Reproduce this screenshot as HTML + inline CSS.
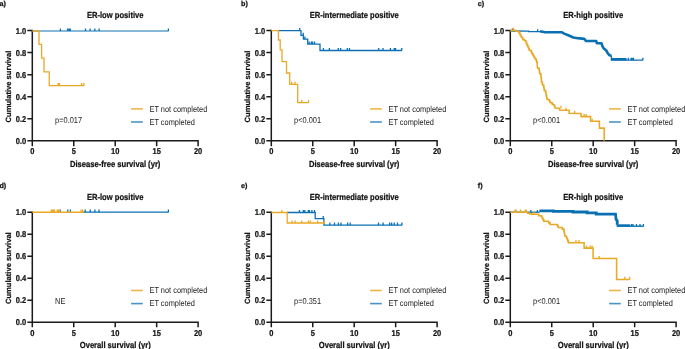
<!DOCTYPE html>
<html><head><meta charset="utf-8"><style>
html,body{margin:0;padding:0;background:#fff;}
svg{display:block;will-change:transform;}
text{font-family:"Liberation Sans",sans-serif;fill:#111;text-rendering:geometricPrecision;}
.tt{font-weight:bold;font-size:7.60px;stroke:#111;stroke-width:0.2px;}
.yl{font-weight:bold;font-size:7.60px;stroke:#111;stroke-width:0.2px;}
.tk{font-weight:bold;font-size:7.50px;stroke:#111;stroke-width:0.2px;}
.lg{font-size:7.40px;fill:#222;}
.pl{font-size:7.2px;font-weight:bold;stroke:#111;stroke-width:0.25px;}
</style></head><body>
<svg width="685" height="349" viewBox="0 0 685 349">
<rect width="685" height="349" fill="#fff"/>
<text transform="translate(-0.60 5.70) scale(1 1.000)" class="pl">a)</text>
<text transform="translate(115.20 18.20) scale(1 1.160)" class="tt" text-anchor="middle">ER-low positive</text>
<text transform="translate(10.70 86.55) rotate(-90) scale(1 1.000)" class="yl" text-anchor="middle">Cumulative survival</text>
<path d="M32.30 30.60 V145.60 M28.10 140.70 H198.10 M28.10 140.70 H32.30 M28.10 118.68 H32.30 M28.10 96.66 H32.30 M28.10 74.64 H32.30 M28.10 52.62 H32.30 M28.10 30.60 H32.30 M32.30 140.70 V145.60 M73.75 140.70 V145.60 M115.20 140.70 V145.60 M156.65 140.70 V145.60 M198.10 140.70 V145.60 " stroke="#1a1a1a" stroke-width="1.50" fill="none" stroke-linecap="square"/>
<text transform="translate(26.30 144.20) scale(1 1.140)" class="tk" text-anchor="end">0.0</text>
<text transform="translate(26.30 122.18) scale(1 1.140)" class="tk" text-anchor="end">0.2</text>
<text transform="translate(26.30 100.16) scale(1 1.140)" class="tk" text-anchor="end">0.4</text>
<text transform="translate(26.30 78.14) scale(1 1.140)" class="tk" text-anchor="end">0.6</text>
<text transform="translate(26.30 56.12) scale(1 1.140)" class="tk" text-anchor="end">0.8</text>
<text transform="translate(26.30 34.10) scale(1 1.140)" class="tk" text-anchor="end">1.0</text>
<text transform="translate(32.30 154.20) scale(1 1.140)" class="tk" text-anchor="middle">0</text>
<text transform="translate(73.75 154.20) scale(1 1.140)" class="tk" text-anchor="middle">5</text>
<text transform="translate(115.20 154.20) scale(1 1.140)" class="tk" text-anchor="middle">10</text>
<text transform="translate(156.65 154.20) scale(1 1.140)" class="tk" text-anchor="middle">15</text>
<text transform="translate(198.10 154.20) scale(1 1.140)" class="tk" text-anchor="middle">20</text>
<text transform="translate(115.20 166.50) scale(1 1.160)" class="tt" text-anchor="middle">Disease-free survival (yr)</text>
<path d="M131.10 108.90 H142.80" stroke="#E9A926" stroke-width="1.6" stroke-opacity="0.85"/>
<path d="M131.10 122.00 H142.80" stroke="#0B70B2" stroke-width="1.6" stroke-opacity="0.75"/>
<text transform="translate(149.50 111.60) scale(1 1.160)" class="lg">ET not completed</text>
<text transform="translate(149.50 124.70) scale(1 1.160)" class="lg">ET completed</text>
<text transform="translate(55.10 122.70) scale(1 1.160)" class="lg">p=0.017</text>
<text transform="translate(241.00 5.70) scale(1 1.000)" class="pl">b)</text>
<text transform="translate(354.20 18.20) scale(1 1.160)" class="tt" text-anchor="middle">ER-intermediate positive</text>
<text transform="translate(249.70 86.55) rotate(-90) scale(1 1.000)" class="yl" text-anchor="middle">Cumulative survival</text>
<path d="M271.30 30.60 V145.60 M267.10 140.70 H437.10 M267.10 140.70 H271.30 M267.10 118.68 H271.30 M267.10 96.66 H271.30 M267.10 74.64 H271.30 M267.10 52.62 H271.30 M267.10 30.60 H271.30 M271.30 140.70 V145.60 M312.75 140.70 V145.60 M354.20 140.70 V145.60 M395.65 140.70 V145.60 M437.10 140.70 V145.60 " stroke="#1a1a1a" stroke-width="1.50" fill="none" stroke-linecap="square"/>
<text transform="translate(265.30 144.20) scale(1 1.140)" class="tk" text-anchor="end">0.0</text>
<text transform="translate(265.30 122.18) scale(1 1.140)" class="tk" text-anchor="end">0.2</text>
<text transform="translate(265.30 100.16) scale(1 1.140)" class="tk" text-anchor="end">0.4</text>
<text transform="translate(265.30 78.14) scale(1 1.140)" class="tk" text-anchor="end">0.6</text>
<text transform="translate(265.30 56.12) scale(1 1.140)" class="tk" text-anchor="end">0.8</text>
<text transform="translate(265.30 34.10) scale(1 1.140)" class="tk" text-anchor="end">1.0</text>
<text transform="translate(271.30 154.20) scale(1 1.140)" class="tk" text-anchor="middle">0</text>
<text transform="translate(312.75 154.20) scale(1 1.140)" class="tk" text-anchor="middle">5</text>
<text transform="translate(354.20 154.20) scale(1 1.140)" class="tk" text-anchor="middle">10</text>
<text transform="translate(395.65 154.20) scale(1 1.140)" class="tk" text-anchor="middle">15</text>
<text transform="translate(437.10 154.20) scale(1 1.140)" class="tk" text-anchor="middle">20</text>
<text transform="translate(354.20 166.50) scale(1 1.160)" class="tt" text-anchor="middle">Disease-free survival (yr)</text>
<path d="M370.10 108.90 H381.80" stroke="#E9A926" stroke-width="1.6" stroke-opacity="0.85"/>
<path d="M370.10 122.00 H381.80" stroke="#0B70B2" stroke-width="1.6" stroke-opacity="0.75"/>
<text transform="translate(388.50 111.60) scale(1 1.160)" class="lg">ET not completed</text>
<text transform="translate(388.50 124.70) scale(1 1.160)" class="lg">ET completed</text>
<text transform="translate(294.10 122.70) scale(1 1.160)" class="lg">p&lt;0.001</text>
<text transform="translate(477.80 5.70) scale(1 1.000)" class="pl">c)</text>
<text transform="translate(593.20 18.20) scale(1 1.160)" class="tt" text-anchor="middle">ER-high positive</text>
<text transform="translate(488.70 86.55) rotate(-90) scale(1 1.000)" class="yl" text-anchor="middle">Cumulative survival</text>
<path d="M510.30 30.60 V145.60 M506.10 140.70 H676.10 M506.10 140.70 H510.30 M506.10 118.68 H510.30 M506.10 96.66 H510.30 M506.10 74.64 H510.30 M506.10 52.62 H510.30 M506.10 30.60 H510.30 M510.30 140.70 V145.60 M551.75 140.70 V145.60 M593.20 140.70 V145.60 M634.65 140.70 V145.60 M676.10 140.70 V145.60 " stroke="#1a1a1a" stroke-width="1.50" fill="none" stroke-linecap="square"/>
<text transform="translate(504.30 144.20) scale(1 1.140)" class="tk" text-anchor="end">0.0</text>
<text transform="translate(504.30 122.18) scale(1 1.140)" class="tk" text-anchor="end">0.2</text>
<text transform="translate(504.30 100.16) scale(1 1.140)" class="tk" text-anchor="end">0.4</text>
<text transform="translate(504.30 78.14) scale(1 1.140)" class="tk" text-anchor="end">0.6</text>
<text transform="translate(504.30 56.12) scale(1 1.140)" class="tk" text-anchor="end">0.8</text>
<text transform="translate(504.30 34.10) scale(1 1.140)" class="tk" text-anchor="end">1.0</text>
<text transform="translate(510.30 154.20) scale(1 1.140)" class="tk" text-anchor="middle">0</text>
<text transform="translate(551.75 154.20) scale(1 1.140)" class="tk" text-anchor="middle">5</text>
<text transform="translate(593.20 154.20) scale(1 1.140)" class="tk" text-anchor="middle">10</text>
<text transform="translate(634.65 154.20) scale(1 1.140)" class="tk" text-anchor="middle">15</text>
<text transform="translate(676.10 154.20) scale(1 1.140)" class="tk" text-anchor="middle">20</text>
<text transform="translate(593.20 166.50) scale(1 1.160)" class="tt" text-anchor="middle">Disease-free survival (yr)</text>
<path d="M609.10 108.90 H620.80" stroke="#E9A926" stroke-width="1.6" stroke-opacity="0.85"/>
<path d="M609.10 122.00 H620.80" stroke="#0B70B2" stroke-width="1.6" stroke-opacity="0.75"/>
<text transform="translate(627.50 111.60) scale(1 1.160)" class="lg">ET not completed</text>
<text transform="translate(627.50 124.70) scale(1 1.160)" class="lg">ET completed</text>
<text transform="translate(533.10 122.70) scale(1 1.160)" class="lg">p&lt;0.001</text>
<text transform="translate(-0.60 187.70) scale(1 1.000)" class="pl">d)</text>
<text transform="translate(115.20 199.80) scale(1 1.160)" class="tt" text-anchor="middle">ER-low positive</text>
<text transform="translate(10.70 268.15) rotate(-90) scale(1 1.000)" class="yl" text-anchor="middle">Cumulative survival</text>
<path d="M32.30 212.20 V326.40 M28.10 322.30 H198.10 M28.10 322.30 H32.30 M28.10 300.28 H32.30 M28.10 278.26 H32.30 M28.10 256.24 H32.30 M28.10 234.22 H32.30 M28.10 212.20 H32.30 M32.30 322.30 V326.40 M73.75 322.30 V326.40 M115.20 322.30 V326.40 M156.65 322.30 V326.40 M198.10 322.30 V326.40 " stroke="#1a1a1a" stroke-width="1.50" fill="none" stroke-linecap="square"/>
<text transform="translate(26.30 325.30) scale(1 1.140)" class="tk" text-anchor="end">0.0</text>
<text transform="translate(26.30 303.28) scale(1 1.140)" class="tk" text-anchor="end">0.2</text>
<text transform="translate(26.30 281.26) scale(1 1.140)" class="tk" text-anchor="end">0.4</text>
<text transform="translate(26.30 259.24) scale(1 1.140)" class="tk" text-anchor="end">0.6</text>
<text transform="translate(26.30 237.22) scale(1 1.140)" class="tk" text-anchor="end">0.8</text>
<text transform="translate(26.30 215.20) scale(1 1.140)" class="tk" text-anchor="end">1.0</text>
<text transform="translate(32.30 335.80) scale(1 1.140)" class="tk" text-anchor="middle">0</text>
<text transform="translate(73.75 335.80) scale(1 1.140)" class="tk" text-anchor="middle">5</text>
<text transform="translate(115.20 335.80) scale(1 1.140)" class="tk" text-anchor="middle">10</text>
<text transform="translate(156.65 335.80) scale(1 1.140)" class="tk" text-anchor="middle">15</text>
<text transform="translate(198.10 335.80) scale(1 1.140)" class="tk" text-anchor="middle">20</text>
<text transform="translate(115.20 348.10) scale(1 1.160)" class="tt" text-anchor="middle">Overall survival (yr)</text>
<path d="M131.10 290.50 H142.80" stroke="#E9A926" stroke-width="1.6" stroke-opacity="0.85"/>
<path d="M131.10 303.60 H142.80" stroke="#0B70B2" stroke-width="1.6" stroke-opacity="0.75"/>
<text transform="translate(149.50 293.20) scale(1 1.160)" class="lg">ET not completed</text>
<text transform="translate(149.50 306.30) scale(1 1.160)" class="lg">ET completed</text>
<text transform="translate(55.10 304.30) scale(1 1.160)" class="lg">NE</text>
<text transform="translate(241.00 187.70) scale(1 1.000)" class="pl">e)</text>
<text transform="translate(354.20 199.80) scale(1 1.160)" class="tt" text-anchor="middle">ER-intermediate positive</text>
<text transform="translate(249.70 268.15) rotate(-90) scale(1 1.000)" class="yl" text-anchor="middle">Cumulative survival</text>
<path d="M271.30 212.20 V326.40 M267.10 322.30 H437.10 M267.10 322.30 H271.30 M267.10 300.28 H271.30 M267.10 278.26 H271.30 M267.10 256.24 H271.30 M267.10 234.22 H271.30 M267.10 212.20 H271.30 M271.30 322.30 V326.40 M312.75 322.30 V326.40 M354.20 322.30 V326.40 M395.65 322.30 V326.40 M437.10 322.30 V326.40 " stroke="#1a1a1a" stroke-width="1.50" fill="none" stroke-linecap="square"/>
<text transform="translate(265.30 325.30) scale(1 1.140)" class="tk" text-anchor="end">0.0</text>
<text transform="translate(265.30 303.28) scale(1 1.140)" class="tk" text-anchor="end">0.2</text>
<text transform="translate(265.30 281.26) scale(1 1.140)" class="tk" text-anchor="end">0.4</text>
<text transform="translate(265.30 259.24) scale(1 1.140)" class="tk" text-anchor="end">0.6</text>
<text transform="translate(265.30 237.22) scale(1 1.140)" class="tk" text-anchor="end">0.8</text>
<text transform="translate(265.30 215.20) scale(1 1.140)" class="tk" text-anchor="end">1.0</text>
<text transform="translate(271.30 335.80) scale(1 1.140)" class="tk" text-anchor="middle">0</text>
<text transform="translate(312.75 335.80) scale(1 1.140)" class="tk" text-anchor="middle">5</text>
<text transform="translate(354.20 335.80) scale(1 1.140)" class="tk" text-anchor="middle">10</text>
<text transform="translate(395.65 335.80) scale(1 1.140)" class="tk" text-anchor="middle">15</text>
<text transform="translate(437.10 335.80) scale(1 1.140)" class="tk" text-anchor="middle">20</text>
<text transform="translate(354.20 348.10) scale(1 1.160)" class="tt" text-anchor="middle">Overall survival (yr)</text>
<path d="M370.10 290.50 H381.80" stroke="#E9A926" stroke-width="1.6" stroke-opacity="0.85"/>
<path d="M370.10 303.60 H381.80" stroke="#0B70B2" stroke-width="1.6" stroke-opacity="0.75"/>
<text transform="translate(388.50 293.20) scale(1 1.160)" class="lg">ET not completed</text>
<text transform="translate(388.50 306.30) scale(1 1.160)" class="lg">ET completed</text>
<text transform="translate(294.10 304.30) scale(1 1.160)" class="lg">p=0.351</text>
<text transform="translate(477.80 187.70) scale(1 1.000)" class="pl">f)</text>
<text transform="translate(593.20 199.80) scale(1 1.160)" class="tt" text-anchor="middle">ER-high positive</text>
<text transform="translate(488.70 268.15) rotate(-90) scale(1 1.000)" class="yl" text-anchor="middle">Cumulative survival</text>
<path d="M510.30 212.20 V326.40 M506.10 322.30 H676.10 M506.10 322.30 H510.30 M506.10 300.28 H510.30 M506.10 278.26 H510.30 M506.10 256.24 H510.30 M506.10 234.22 H510.30 M506.10 212.20 H510.30 M510.30 322.30 V326.40 M551.75 322.30 V326.40 M593.20 322.30 V326.40 M634.65 322.30 V326.40 M676.10 322.30 V326.40 " stroke="#1a1a1a" stroke-width="1.50" fill="none" stroke-linecap="square"/>
<text transform="translate(504.30 325.30) scale(1 1.140)" class="tk" text-anchor="end">0.0</text>
<text transform="translate(504.30 303.28) scale(1 1.140)" class="tk" text-anchor="end">0.2</text>
<text transform="translate(504.30 281.26) scale(1 1.140)" class="tk" text-anchor="end">0.4</text>
<text transform="translate(504.30 259.24) scale(1 1.140)" class="tk" text-anchor="end">0.6</text>
<text transform="translate(504.30 237.22) scale(1 1.140)" class="tk" text-anchor="end">0.8</text>
<text transform="translate(504.30 215.20) scale(1 1.140)" class="tk" text-anchor="end">1.0</text>
<text transform="translate(510.30 335.80) scale(1 1.140)" class="tk" text-anchor="middle">0</text>
<text transform="translate(551.75 335.80) scale(1 1.140)" class="tk" text-anchor="middle">5</text>
<text transform="translate(593.20 335.80) scale(1 1.140)" class="tk" text-anchor="middle">10</text>
<text transform="translate(634.65 335.80) scale(1 1.140)" class="tk" text-anchor="middle">15</text>
<text transform="translate(676.10 335.80) scale(1 1.140)" class="tk" text-anchor="middle">20</text>
<text transform="translate(593.20 348.10) scale(1 1.160)" class="tt" text-anchor="middle">Overall survival (yr)</text>
<path d="M609.10 290.50 H620.80" stroke="#E9A926" stroke-width="1.6" stroke-opacity="0.85"/>
<path d="M609.10 303.60 H620.80" stroke="#0B70B2" stroke-width="1.6" stroke-opacity="0.75"/>
<text transform="translate(627.50 293.20) scale(1 1.160)" class="lg">ET not completed</text>
<text transform="translate(627.50 306.30) scale(1 1.160)" class="lg">ET completed</text>
<text transform="translate(533.10 304.30) scale(1 1.160)" class="lg">p&lt;0.001</text>
<path d="M32.30 31.00 H168.60" stroke="#0B70B2" stroke-width="1.00" fill="none" />
<path d="M60.40 31.00 V28.40 M67.60 31.00 V28.40 M69.10 31.00 V28.40 M70.30 31.00 V28.40 M85.50 31.00 V28.40 M90.10 31.00 V28.40 M94.80 31.00 V28.40 M99.10 31.00 V28.40 M168.40 31.00 V28.40 " stroke="#0B70B2" stroke-width="1.30" fill="none" />
<path d="M32.30 31.00 H39.00 V44.40 H41.60 V58.10 H44.00 V71.90 H49.25 V85.60 H84.20" stroke="#E9A926" stroke-width="1.30" fill="none" />
<path d="M58.10 85.60 V83.00 M59.30 85.60 V83.00 M81.70 85.60 V83.00 M83.90 85.60 V83.00 " stroke="#E9A926" stroke-width="1.30" fill="none" />
<path d="M278.00 30.60 H301.00 V35.30 H303.40 V39.20 H307.70 V44.10 H320.00 V50.50 H402.00" stroke="#0B70B2" stroke-width="1.30" fill="none" />
<path d="M299.70 30.60 V28.00 M303.20 35.30 V32.70 M304.90 39.20 V36.60 M309.20 44.10 V41.50 M311.30 44.10 V41.50 M312.60 44.10 V41.50 M314.60 44.10 V41.50 M323.40 50.50 V47.90 M329.40 50.50 V47.90 M338.30 50.50 V47.90 M340.70 50.50 V47.90 M347.30 50.50 V47.90 M349.50 50.50 V47.90 M378.70 50.50 V47.90 M383.00 50.50 V47.90 M390.40 50.50 V47.90 M394.30 50.50 V47.90 M395.50 50.50 V47.90 M401.80 50.50 V47.90 " stroke="#0B70B2" stroke-width="1.30" fill="none" />
<path d="M271.30 30.60 H278.40 V40.00 H280.20 V49.80 H282.00 V61.70 H286.50 V73.00 H289.70 V84.30 H297.70 V102.70 H308.70" stroke="#E9A926" stroke-width="1.30" fill="none" />
<path d="M291.70 84.30 V81.70 M295.10 84.30 V81.70 M301.70 102.70 V100.10 M308.50 102.70 V100.10 " stroke="#E9A926" stroke-width="1.30" fill="none" />
<path d="M510.30 31.00 L528.60 31.20 L528.60 31.60 L540.30 31.60" stroke="#0B70B2" stroke-width="1.30" fill="none" />
<path d="M540.00 31.30 L545.00 32.30 L562.00 32.30 L564.20 33.60 L568.80 35.50 L573.30 37.50 L577.90 38.30 L580.00 38.40 L584.30 38.90 L586.00 41.00 L596.30 41.00 L596.80 43.20 L601.50 43.20 L602.40 46.20 L603.60 48.30 L605.40 49.80 L606.50 50.80 L607.80 53.30 L609.60 55.30 L611.40 55.60" stroke="#0B70B2" stroke-width="2.60" fill="none" stroke-linejoin="round"/>
<path d="M611.40 55.60 L611.40 60.20 L643.00 60.20" stroke="#0B70B2" stroke-width="1.30" fill="none" />
<rect x="611.4" y="58.0" width="15.1" height="2.4" fill="#0B70B2"/>
<path d="M512.40 31.00 V28.60 M537.60 31.60 V29.20 M628.30 60.20 V57.80 M631.10 60.20 V57.80 M632.10 60.20 V57.80 M633.50 60.20 V57.80 M642.90 60.20 V57.80 " stroke="#0B70B2" stroke-width="1.30" fill="none" />
<path d="M510.30 30.60 L512.00 30.60 L512.00 30.30 L514.90 30.30 L515.60 30.30 L515.60 31.30 L518.30 31.30 L518.30 31.80 L519.00 31.80 L519.00 32.90 L520.00 32.90 L520.00 34.90 L521.10 34.90 L521.10 37.00 L522.10 37.00 L522.10 38.00 L522.80 38.00 L522.80 39.40 L524.20 39.40 L524.20 40.40 L525.20 40.40 L525.90 40.40 L525.90 42.50 L526.60 42.50 L526.60 44.60 L527.60 44.60 L527.60 46.60 L528.60 46.60 L528.60 48.70 L529.30 48.70 L529.30 50.30 L530.30 50.30 L530.30 50.60 L531.50 50.60 L531.50 52.90 L532.35 52.90 L532.35 54.35 L533.20 54.35 L533.20 55.80 L534.05 55.80 L534.05 57.25 L534.90 57.25 L534.90 58.70 L536.10 58.70 L536.10 60.40 L536.65 60.40 L536.65 62.10 L537.20 62.10 L537.20 63.80 L537.40 68.00 L538.90 68.00 L538.90 68.60 L539.17 68.60 L539.17 70.33 L539.43 70.33 L539.43 72.07 L539.70 72.07 L539.70 73.80 L540.90 73.80 L540.90 76.00 L541.05 76.00 L541.05 77.45 L541.20 77.45 L541.20 78.90 L541.35 78.90 L541.35 80.35 L541.50 80.35 L541.50 81.80 L542.05 81.80 L542.05 83.50 L542.60 83.50 L542.60 85.20 L543.80 85.20 L543.80 87.50 L544.05 87.50 L544.05 88.95 L544.30 88.95 L544.30 90.40 L545.50 90.40 L545.50 92.10 L546.00 92.10 L546.00 94.40 L546.33 94.40 L546.33 96.10 L546.67 96.10 L546.67 97.80 L547.00 97.80 L547.00 99.50 L549.00 99.50 L549.00 100.00 L549.50 100.00 L549.50 101.25 L550.00 101.25 L550.00 102.50 L551.50 102.50 L551.50 103.00 L552.50 103.00 L552.50 104.50 L553.50 104.50 L553.50 105.00 L554.50 105.00 L554.50 106.50 L555.00 106.50 L555.00 108.00 L559.00 108.30 L559.60 108.30 L559.60 110.00 L564.00 110.30 L569.10 110.30 L569.10 113.30 L581.10 113.60 L581.10 116.60 L590.60 116.60 L590.60 121.30 L599.40 121.30 L599.40 128.10 L604.20 128.10 L604.20 140.70" stroke="#E9A926" stroke-width="1.55" fill="none" stroke-linejoin="miter"/>
<path d="M513.50 30.30 V27.70 M552.00 104.50 V101.90 M561.00 108.30 V105.70 M566.00 110.30 V107.70 M574.60 113.40 V110.80 M584.10 116.60 V114.00 M586.10 116.60 V114.00 M592.20 121.30 V118.70 " stroke="#E9A926" stroke-width="1.30" fill="none" />
<path d="M83.00 212.20 H168.60" stroke="#0B70B2" stroke-width="1.30" fill="none" />
<path d="M60.10 212.20 V209.60 M67.80 212.20 V209.60 M70.40 212.20 V209.60 M85.20 212.20 V209.60 M90.30 212.20 V209.60 M94.90 212.20 V209.60 M99.00 212.20 V209.60 M168.40 212.20 V209.60 " stroke="#0B70B2" stroke-width="1.30" fill="none" />
<path d="M32.30 212.20 H83.60" stroke="#E9A926" stroke-width="1.40" fill="none" />
<path d="M51.30 212.20 V209.60 M52.30 212.20 V209.60 M53.60 212.20 V209.60 M54.40 212.20 V209.60 M57.30 212.20 V209.60 M58.20 212.20 V209.60 M59.10 212.20 V209.60 M81.10 212.20 V209.60 M82.60 212.20 V209.60 " stroke="#E9A926" stroke-width="1.30" fill="none" />
<path d="M286.80 212.50 H315.20 V218.60 H323.90 V225.20 H402.10" stroke="#0B70B2" stroke-width="1.30" fill="none" />
<path d="M299.50 212.50 V209.90 M303.30 212.50 V209.90 M304.80 212.50 V209.90 M308.40 212.50 V209.90 M309.40 212.50 V209.90 M311.90 212.50 V209.90 M314.50 212.50 V209.90 M323.20 218.60 V216.00 M329.90 225.20 V222.60 M334.50 225.20 V222.60 M338.40 225.20 V222.60 M341.00 225.20 V222.60 M347.60 225.20 V222.60 M350.20 225.20 V222.60 M378.50 225.20 V222.60 M383.10 225.20 V222.60 M389.60 225.20 V222.60 M391.60 225.20 V222.60 M394.20 225.20 V222.60 M397.50 225.20 V222.60 M401.90 225.20 V222.60 " stroke="#0B70B2" stroke-width="1.30" fill="none" />
<path d="M271.30 212.50 H287.20 V223.00 H324.60" stroke="#E9A926" stroke-width="1.30" fill="none" />
<path d="M281.80 212.50 V209.90 M292.00 223.00 V220.40 M295.10 223.00 V220.40 M301.70 223.00 V220.40 M308.40 223.00 V220.40 M310.40 223.00 V220.40 M317.60 223.00 V220.40 M324.20 223.00 V220.40 " stroke="#E9A926" stroke-width="1.30" fill="none" />
<path d="M510.30 212.20 L529.50 212.20 L539.70 212.20" stroke="#0B70B2" stroke-width="1.30" fill="none" />
<path d="M539.40 210.90 L553.40 210.90 L553.40 211.40 L573.00 211.40 L573.00 212.00 L587.20 212.00 L587.20 212.80 L596.20 212.80 L596.20 214.10 L615.50 214.20 L616.10 219.50 L617.20 220.60 L617.20 224.80" stroke="#0B70B2" stroke-width="2.80" fill="none" stroke-linejoin="miter"/>
<path d="M616.90 226.20 L643.70 226.20" stroke="#0B70B2" stroke-width="1.40" fill="none" />
<rect x="616.6" y="224.3" width="13.5" height="2.2" fill="#0B70B2"/>
<path d="M530.80 212.20 V210.00 M537.40 212.20 V210.00 M631.50 226.20 V224.00 M633.00 226.20 V224.00 M636.50 226.20 V224.00 M640.00 226.20 V224.00 M643.40 226.20 V224.00 " stroke="#0B70B2" stroke-width="1.30" fill="none" />
<path d="M510.30 212.20 L526.00 212.20 L527.50 212.20 L527.50 213.20 L529.50 213.20 L529.50 213.70 L531.60 213.70 L531.60 214.20 L537.60 214.20 L538.60 214.20 L538.60 215.70 L541.20 215.70 L541.20 216.20 L542.07 216.20 L542.07 217.90 L542.93 217.90 L542.93 219.60 L543.80 219.60 L543.80 221.30 L547.40 221.30 L548.70 221.30 L548.70 222.85 L550.00 222.85 L550.00 224.40 L556.70 224.40 L557.45 224.40 L557.45 225.95 L558.20 225.95 L558.20 227.50 L562.30 227.50 L562.30 229.10 L563.90 229.10 L563.90 230.60 L564.15 230.60 L564.15 232.03 L564.40 232.03 L564.40 233.45 L564.65 233.45 L564.65 234.88 L564.90 234.88 L564.90 236.30 L566.50 236.30 L566.50 237.90 L567.17 237.90 L567.17 239.50 L567.83 239.50 L567.83 241.10 L568.50 241.10 L568.50 242.70 L584.10 242.70 L584.10 248.10 L593.10 248.10 L593.10 258.50 L616.60 258.50 L616.60 279.40 L630.00 279.40" stroke="#E9A926" stroke-width="1.55" fill="none" stroke-linejoin="miter"/>
<path d="M515.00 212.20 V209.60 M516.10 212.20 V209.60 M520.60 212.20 V209.60 M525.20 212.20 V209.60 M526.20 212.20 V209.60 M534.00 214.20 V211.60 M576.00 242.70 V240.10 M579.00 242.70 V240.10 M586.50 248.10 V245.50 M590.10 248.10 V245.50 M592.10 248.10 V245.50 M599.20 258.50 V255.90 M624.80 279.40 V276.80 M629.80 279.40 V276.80 " stroke="#E9A926" stroke-width="1.30" fill="none" />
</svg>
</body></html>
